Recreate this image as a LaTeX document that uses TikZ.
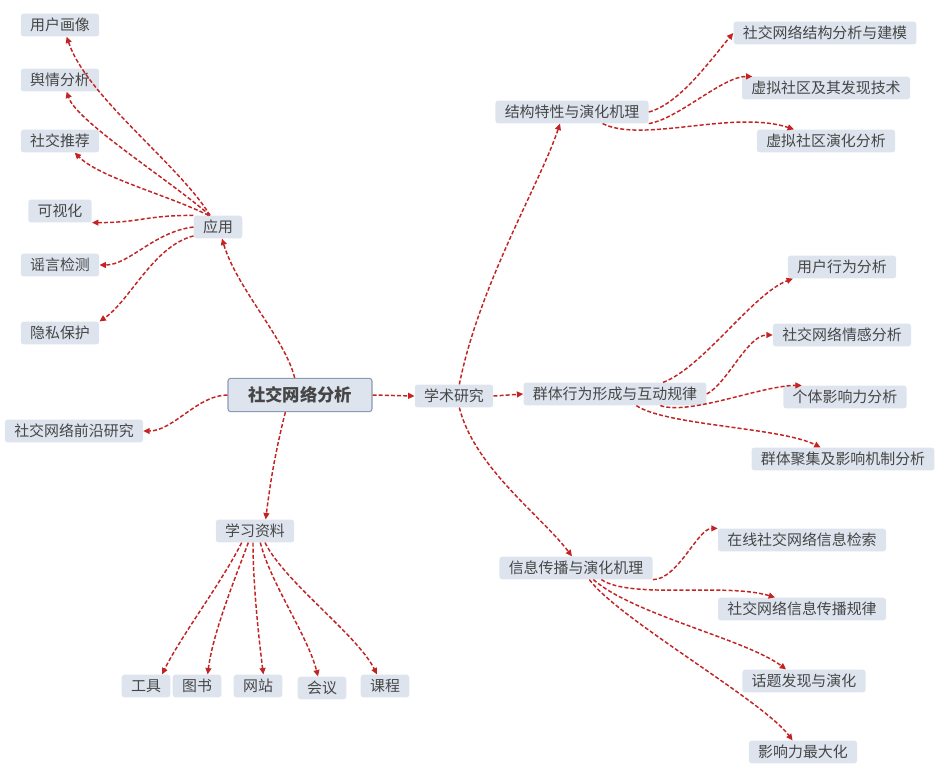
\documentclass[tikz,border=0pt]{standalone}
\usepackage{fontspec}
\setmainfont{Noto Sans CJK SC}
\usetikzlibrary{arrows.meta}
\definecolor{nodefill}{RGB}{221,228,238}
\definecolor{rootline}{RGB}{140,155,180}
\definecolor{textgray}{RGB}{70,70,70}
\definecolor{edgered}{RGB}{195,35,35}
\tikzset{box/.style={fill=nodefill,rounded corners=2pt,text=textgray,font=\fontsize{11.2}{13}\selectfont,inner xsep=7pt,inner ysep=2pt,minimum height=17pt},root/.style={box,draw=rootline,line width=0.8pt,font=\fontsize{13}{15}\selectfont\bfseries,inner xsep=15pt,minimum height=25pt},edge/.style={-{Triangle[length=4.8pt,width=4.4pt]},edgered,line width=1.1pt,dash pattern=on 3pt off 1.6pt}}

\begin{document}
\begin{tikzpicture}[x=0.75pt,y=-0.75pt]
\useasboundingbox (0,0) rectangle (951,776);
% centre and first level
\node[root] (center) at (300,395) {社交网络分析};
\node[box] (app) at (218,227) {应用};
\node[box] (frontier) at (74,431) {社交网络前沿研究};
\node[box] (academic) at (454,396) {学术研究};
\node[box] (study) at (255,531) {学习资料};
% application
\node[box] (portrait) at (60,25) {用户画像};
\node[box] (opinion) at (60,80) {舆情分析};
\node[box] (recommend) at (60,141) {社交推荐};
\node[box] (visual) at (60,211) {可视化};
\node[box] (rumor) at (60,265) {谣言检测};
\node[box] (privacy) at (60,333) {隐私保护};
% academic research
\node[box] (struct) at (572,112) {结构特性与演化机理};
\node[box] (group) at (615,394) {群体行为形成与互动规律};
\node[box] (info) at (576,568) {信息传播与演化机理};
\node[box] (model) at (825,33) {社交网络结构分析与建模};
\node[box] (discovery) at (826,88) {虚拟社区及其发现技术};
\node[box] (evolution) at (826,141) {虚拟社区演化分析};
\node[box] (behavior) at (842,267) {用户行为分析};
\node[box] (emotion) at (842,335) {社交网络情感分析};
\node[box] (influence) at (845,397) {个体影响力分析};
\node[box] (gathering) at (843,459) {群体聚集及影响机制分析};
\node[box] (retrieval) at (802,540) {在线社交网络信息检索};
\node[box] (rule) at (802,609) {社交网络信息传播规律};
\node[box] (topic) at (804,681) {话题发现与演化};
\node[box] (maxinf) at (803,752) {影响力最大化};
% study material
\node[box] (tools) at (146,686) {工具};
\node[box] (books) at (197,686) {图书};
\node[box] (web) at (258,686) {网站};
\node[box] (meeting) at (322,688) {会议};
\node[box] (course) at (385,686) {课程};
% connectors
\draw[edge] ([xshift=-4pt]center.north) .. controls +(-10,-40) and +(15,50) .. ([xshift=3pt]app.south);
\draw[edge] (center.west) .. controls +(-30,0) and +(30,0) .. (frontier.east);
\draw[edge] (center.east) -- (academic.west);
\draw[edge] ([xshift=-11pt]center.south) .. controls +(-10,40) and +(5,-40) .. ([xshift=8pt]study.north);
\draw[edge] ([xshift=-6pt]app.north) .. controls +(-30,-50) and +(20,60) .. ([xshift=5pt]portrait.south);
\draw[edge] ([xshift=-6pt]app.north) .. controls +(-40,-35) and +(10,30) .. ([xshift=5pt]opinion.south);
\draw[edge] ([xshift=-7pt]app.north) .. controls +(-40,-20) and +(25,25) .. ([xshift=11pt]recommend.south);
\draw[edge] (app.north west) .. controls +(-50,0) and +(50,0) .. (visual.south east);
\draw[edge] (app.west) .. controls +(-40,5) and +(30,0) .. (rumor.east);
\draw[edge] ([yshift=2pt]app.south west) .. controls +(-40,10) and +(30,-20) .. (privacy.north east);
\draw[edge] ([xshift=4pt]academic.north) .. controls +(20,-100) and +(-20,60) .. ([xshift=-9pt]struct.south);
\draw[edge] (academic.east) -- (group.west);
\draw[edge] ([xshift=4pt]academic.south) .. controls +(15,60) and +(-30,-40) .. ([xshift=-3pt]info.north);
\draw[edge] (struct.east) .. controls +(30,-8) and +(-25,30) .. (model.west);
\draw[edge] (struct.south east) .. controls +(30,-5) and +(-30,0) .. ([xshift=8pt]discovery.north west);
\draw[edge] ([xshift=23pt]struct.south) .. controls +(40,20) and +(-60,-20) .. ([xshift=28pt]evolution.north west);
\draw[edge] ([xshift=36pt]group.north) .. controls +(40,-15) and +(-40,15) .. ([xshift=4pt]behavior.south west);
\draw[edge] (group.east) .. controls +(20,-10) and +(-25,0) .. (emotion.west);
\draw[edge] ([xshift=34pt]group.south) .. controls +(30,10) and +(-40,0) .. ([xshift=14pt]influence.north west);
\draw[edge] ([xshift=16pt]group.south) .. controls +(30,20) and +(-40,-20) .. ([xshift=52pt]gathering.north west);
\draw[edge] (info.south east) .. controls +(25,0) and +(-20,0) .. (retrieval.north west);
\draw[edge] ([xshift=19pt]info.south) .. controls +(30,20) and +(-50,-15) .. ([xshift=43pt]rule.north west);
\draw[edge] ([xshift=13pt]info.south) .. controls +(40,35) and +(-40,-30) .. ([xshift=33pt]topic.north west);
\draw[edge] ([xshift=10pt]info.south) .. controls +(30,40) and +(-30,-40) .. ([xshift=33pt]maxinf.north west);
\draw[edge] ([xshift=-10pt]study.south) .. controls +(-20,40) and +(20,-40) .. ([xshift=12pt]tools.north);
\draw[edge] ([xshift=-5pt]study.south) .. controls +(-15,40) and +(5,-40) .. ([xshift=8pt]books.north);
\draw[edge] ([xshift=-1.5pt]study.south) .. controls +(0,40) and +(-5,-40) .. ([xshift=4pt]web.north);
\draw[edge] ([xshift=4pt]study.south) .. controls +(10,40) and +(-10,-40) .. ([xshift=-3pt]meeting.north);
\draw[edge] ([xshift=7.5pt]study.south) .. controls +(20,40) and +(-20,-40) .. ([xshift=-6pt]course.north);
\end{tikzpicture}
\end{document}
